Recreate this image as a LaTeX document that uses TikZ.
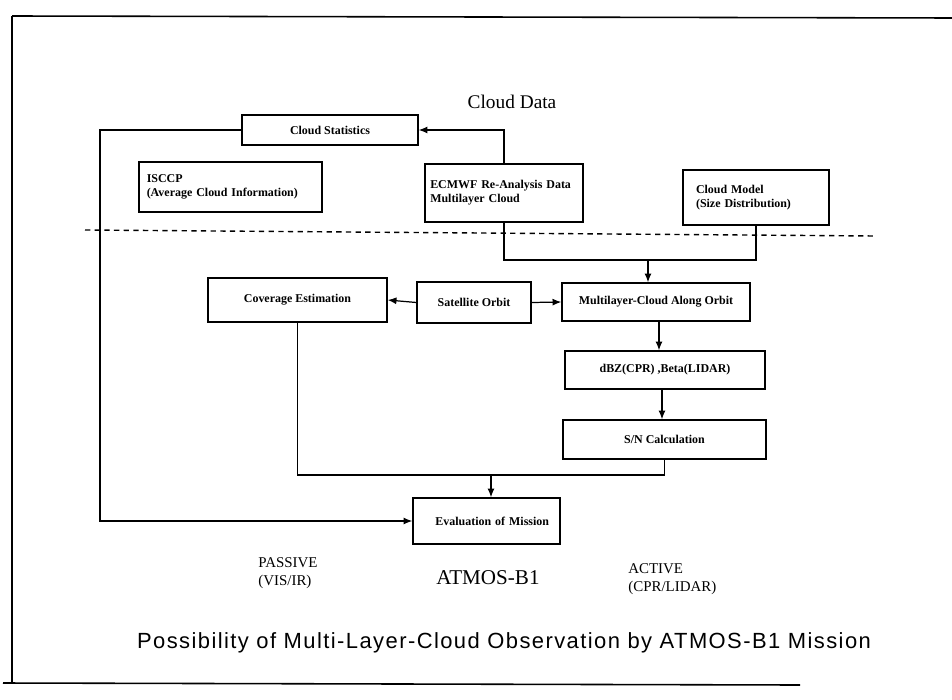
\documentclass[tikz,border=0pt]{standalone}
\usepackage{fontspec}
\setmainfont{Liberation Serif}
\newfontfamily\titlefont[LetterSpace=6.5]{Liberation Sans}
\usetikzlibrary{arrows.meta}
\tikzset{
  box/.style={draw, line width=0.8pt, inner sep=1pt, font=\bfseries\fontsize{6.8}{8}\selectfont},
  conn/.style={line width=0.7pt},
  arr/.style={line width=0.7pt, -{Latex[length=5pt,width=4pt]}},
  lbl/.style={inner sep=0pt, font=\fontsize{8.5}{10.5}\selectfont, align=left},
  big/.style={inner sep=0pt, font=\fontsize{11}{13}\selectfont}
}
\begin{document}
\begin{tikzpicture}[x=0.02cm, y=-0.02cm]
\useasboundingbox (0,0) rectangle (952,699);
% frame
\draw[line width=0.9pt] (12,16) -- (952,18);
\draw[line width=0.8pt] (12,16) -- (12,683);
\draw[line width=0.9pt] (3,683) -- (800,685);

\node[big] (title) at (512,102) {Cloud Data};

\node[box, minimum width=3.52cm, minimum height=0.6cm] (cstat) at (330,130) {Cloud Statistics};
\node[box, minimum width=3.66cm, minimum height=1.0cm, text width=3.35cm, align=left] (isccp) at (230.5,187) {ISCCP\\(Average Cloud Information)};
\node[box, minimum width=3.16cm, minimum height=1.16cm, text width=2.95cm, align=left] (ecmwf) at (504,193) {ECMWF Re-Analysis Data\\Multilayer Cloud\\[4pt]};
\node[box, minimum width=2.92cm, minimum height=1.1cm, text width=2.4cm, align=left] (cmodel) at (756,197.5) {Cloud Model\\(Size Distribution)};

\draw[dashed, line width=0.8pt, dash pattern=on 3pt off 2.5pt] (85,230) -- (875,236);

\node[box, minimum width=3.58cm, minimum height=0.88cm] (cov) at (297.5,300) {Coverage Estimation};
\node[box, minimum width=2.28cm, minimum height=0.82cm] (sat) at (474,302.5) {Satellite Orbit};
\node[box, minimum width=3.76cm, minimum height=0.76cm] (mlc) at (656,302) {Multilayer-Cloud Along Orbit};
\node[box, minimum width=4.0cm, minimum height=0.76cm] (dbz) at (665,370) {dBZ(CPR) ,Beta(LIDAR)};
\node[box, minimum width=4.06cm, minimum height=0.78cm] (sn) at (664.5,439.5) {S/N Calculation};
\node[box, minimum width=2.94cm, minimum height=0.92cm, text width=2.5cm, align=right] (eval) at (486.5,521) {Evaluation of Mission};

% connectors
\coordinate (lx) at (100,130);
\draw[arr] (cstat.west) -- (lx) |- (eval.west);
\draw[arr] (ecmwf.north) |- (cstat.east);
\coordinate (j1) at (648,260);
\draw[conn] (ecmwf.south) |- (j1) -| (cmodel.south);
\draw[arr] (j1) -- (j1 |- mlc.north);
\draw[arr] (sat.west) -- (cov.east);
\draw[arr] (sat.east) -- (mlc.west);
\coordinate (c1) at (659,0);
\draw[arr] (mlc.south -| c1) -- (dbz.north -| c1);
\coordinate (c2) at (662,0);
\draw[arr] (dbz.south -| c2) -- (sn.north -| c2);
\coordinate (j2) at (491,475);
\draw[conn] (cov.south) |- (j2) -| (sn.south);
\draw[arr] (j2) -- (j2 |- eval.north);

\node[lbl, anchor=north west] (passive) at (258,557) {PASSIVE\\(VIS/IR)};
\node[big, font=\fontsize{12}{14}\selectfont] (atmos) at (488,578) {ATMOS-B1};
\node[lbl, anchor=north west] (active) at (628,563) {ACTIVE\\(CPR/LIDAR)};
\node[inner sep=0pt, font=\titlefont\fontsize{12.5}{15}\selectfont] (cap) at (504,643) {Possibility of Multi-Layer-Cloud Observation by ATMOS-B1 Mission};
\end{tikzpicture}
\end{document}
